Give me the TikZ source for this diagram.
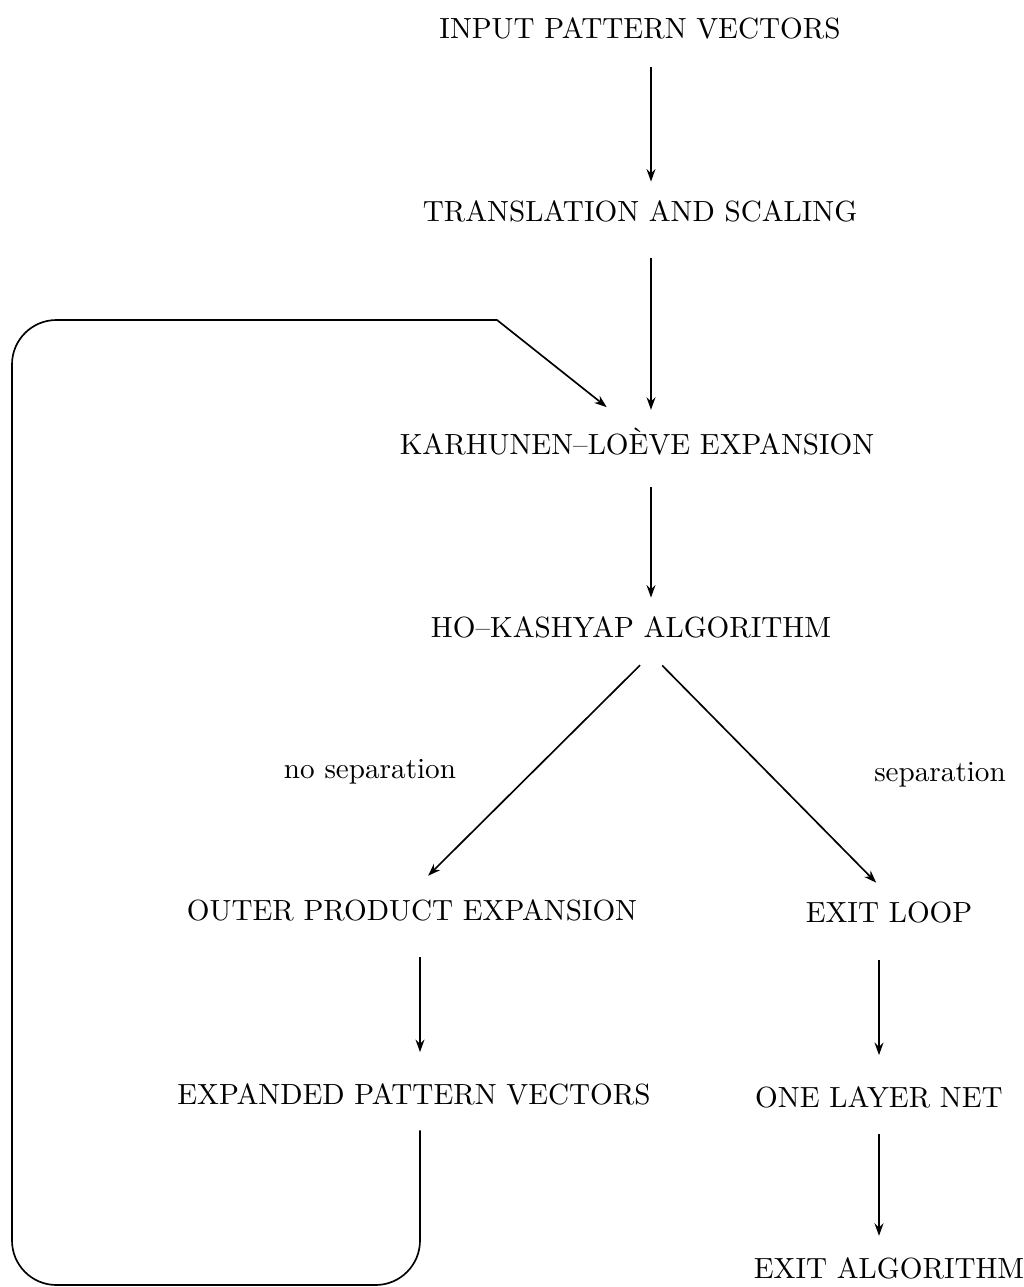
\documentclass[tikz,border=0pt]{standalone}
\usepackage{tikz}
\usetikzlibrary{arrows.meta}

\tikzstyle{stage}=[inner sep=0pt,font=\fontsize{10.5}{12}\selectfont]
\tikzstyle{cond}=[inner sep=0pt,font=\fontsize{10.5}{12}\selectfont]
\tikzstyle{flow}=[line width=.6pt,-{Stealth[length=4.5pt,width=3.2pt]}]
\tikzstyle{vflow}=[flow,shorten <=10pt,shorten >=6.5pt]

\begin{document}
\begin{tikzpicture}[x=0.36pt,y=-0.36pt]
	\useasboundingbox (0,0) rectangle (1024,1287);
	\coordinate (spine) at (651,0);
	\coordinate (back) at (420,0);
	% main column
	\node[stage] (inp)   at (640,28)   {INPUT PATTERN VECTORS};
	\node[stage] (trans) at (640,211)  {TRANSLATION AND SCALING};
	\node[stage] (kl)    at (637,442)  {KARHUNEN--LO\`EVE EXPANSION};
	\node[stage] (hk)    at (631,627)  {HO--KASHYAP ALGORITHM};
	\node[cond]  (nosep) at (370,772)  {no separation};
	\node[cond]  (sep)   at (940,775)  {separation};
	\node[stage] (opx)   at (412,910)  {OUTER PRODUCT EXPANSION};
	\node[stage] (exitl) at (889,913)  {EXIT LOOP};
	\node[stage] (epv)   at (414,1094) {EXPANDED PATTERN VECTORS};
	\node[stage] (onl)   at (879,1097) {ONE LAYER NET};
	\node[stage] (exita) at (889,1268) {EXIT ALGORITHM};

	\draw[vflow] (inp.south -| spine) -- (trans.north -| spine);
	\draw[vflow,shorten <=13pt] (trans.south -| spine) -- (kl.north -| spine);
	\draw[vflow,shorten <=11pt] (kl.south -| spine) -- (hk.north -| spine);
	\draw[flow,shorten <=13.7pt,shorten >=11.7pt] ([xshift=13pt]hk.south) -- ([xshift=-2.5pt]opx.north);
	\draw[flow,shorten <=13.7pt,shorten >=9.7pt] ([xshift=1.6pt]hk.south) -- ([xshift=2.2pt]exitl.north);
	\draw[vflow,shorten <=13pt,shorten >=11pt] (opx.south -| back) -- (epv.north -| back);
	\draw[vflow,shorten <=13pt,shorten >=11pt] (exitl.south -| onl.north) -- (onl.north);
	\draw[vflow,shorten <=9.4pt,shorten >=7.5pt] (onl.south) -- (onl.south |- exita.north);
	% feedback loop
	\draw[flow,shorten >=12pt,rounded corners=16pt] ([yshift=-9pt]epv.south -| back)
		-- (420,1285) -- (12,1285) -- (12,320) [sharp corners] -- (497,320) -- ([xshift=-1.5pt]kl.north);
\end{tikzpicture}
\end{document}
